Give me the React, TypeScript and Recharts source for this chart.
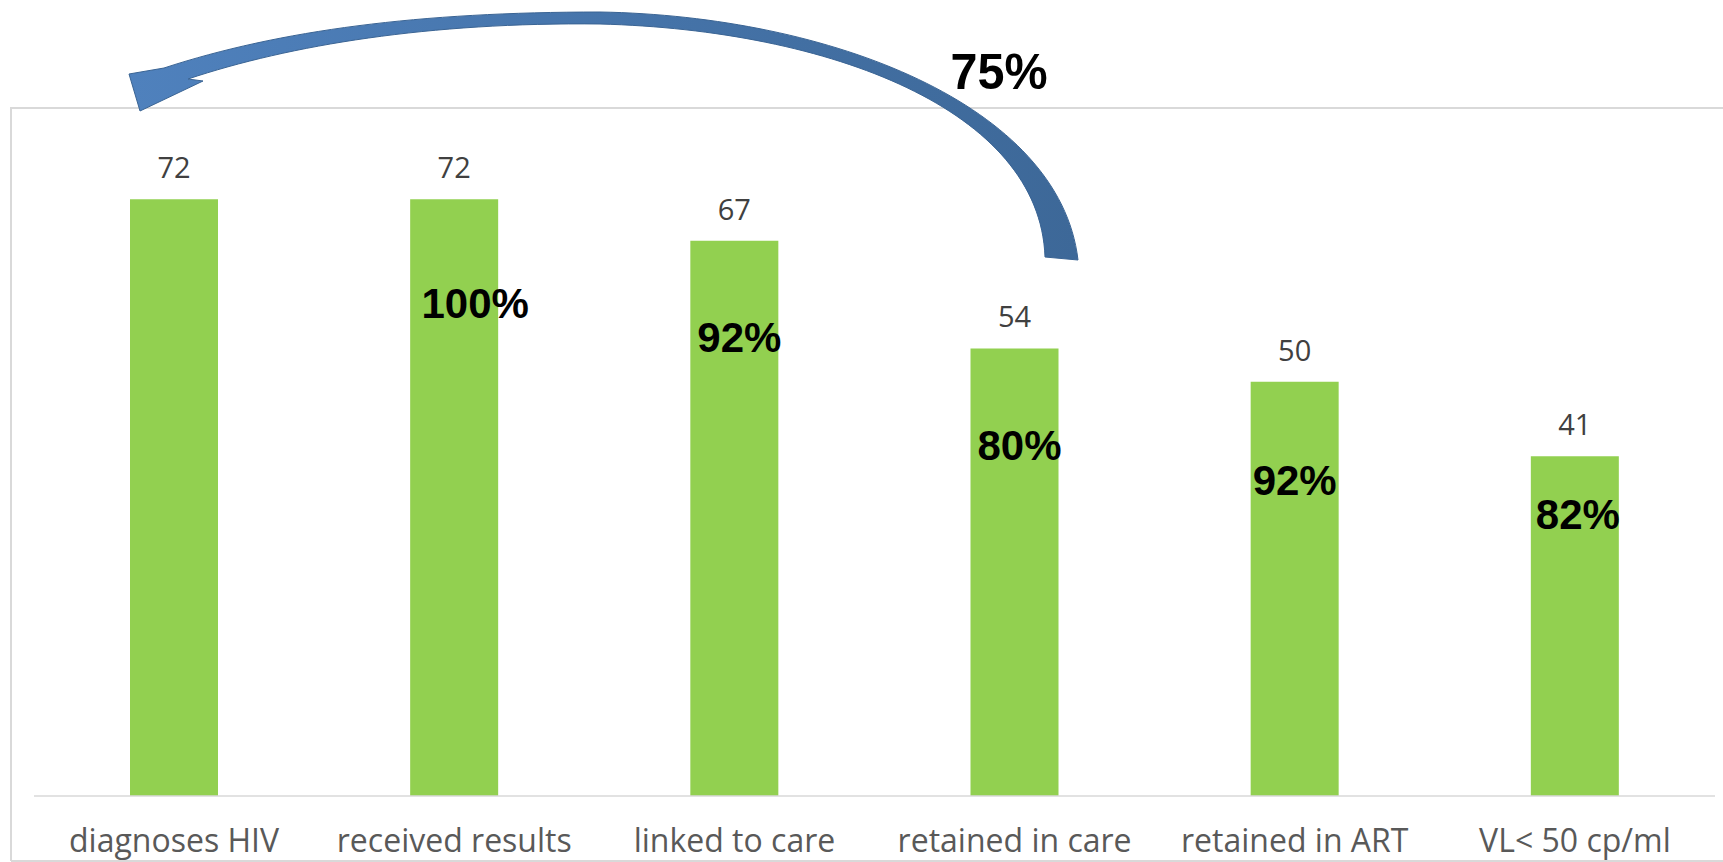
import React from "react"
import { BarChart, Bar, XAxis, YAxis, LabelList } from "recharts"

const steps = [
  "diagnoses HIV",
  "received results",
  "linked to care",
  "retained in care",
  "retained in ART",
  "VL< 50 cp/ml",
]
const counts = [72, 72, 67, 54, 50, 41]
const stepRates = ["", "100%", "92%", "80%", "92%", "82%"]
const overallRate = "75%"

const data = steps.map((name, i) => ({ name, count: counts[i], rate: stepRates[i] }))

// hand-placed text boxes in the original slide: [dx, dy from bar top]
const rateShift = [
  [0, 0],
  [21, 104],
  [5, 96],
  [5, 97],
  [0, 98],
  [3, 58],
]

const W = 1723
const H = 862

function CountLabel(props: any) {
  const { x, y, width, value } = props
  return (
    <text
      x={x + width / 2}
      y={y - 21}
      textAnchor="middle"
      fontFamily="'Open Sans', sans-serif"
      fontSize={29}
      fill="#404040"
    >
      {value}
    </text>
  )
}

function RateLabel(props: any) {
  const { x, y, width, value, index } = props
  if (!value) return null
  const s = rateShift[index] || [0, 97]
  return (
    <text
      x={x + width / 2 + s[0]}
      y={y + s[1] + 15}
      textAnchor="middle"
      fontFamily="'Liberation Sans', Arial, sans-serif"
      fontWeight="bold"
      fontSize={42}
      fill="#000"
    >
      {value}
    </text>
  )
}

function StepTick(props: any) {
  const { x, payload } = props
  return (
    <text
      x={x}
      y={852}
      textAnchor="middle"
      fontFamily="'Open Sans', sans-serif"
      fontSize={32}
      fill="#595959"
    >
      {payload.value}
    </text>
  )
}

export default function App() {
  return (
    <div style={{ position: "absolute", left: 0, top: 0, width: W, height: H, background: "#fff" }}>
      <BarChart
        width={W}
        height={H}
        data={data}
        margin={{ top: 133, right: 8, bottom: 0, left: 34 }}
      >
        <XAxis
          dataKey="name"
          height={66}
          tickLine={false}
          axisLine={{ stroke: "#D9D9D9", strokeWidth: 1.5 }}
          tick={<StepTick />}
          interval={0}
        />
        <YAxis hide domain={[0, 80]} width={0} />
        <Bar dataKey="count" fill="#92D050" barSize={88} isAnimationActive={false}>
          <LabelList dataKey="count" content={<CountLabel />} />
          <LabelList dataKey="rate" content={<RateLabel />} />
        </Bar>
      </BarChart>

      <svg
        width={W}
        height={H}
        style={{ position: "absolute", left: 0, top: 0, pointerEvents: "none" }}
      >
        <defs>
          <linearGradient id="arrowFill" x1="0" y1="0" x2="1" y2="0">
            <stop offset="0%" stopColor="#4F81BD" />
            <stop offset="100%" stopColor="#3D6898" />
          </linearGradient>
        </defs>
        <path
          d={`M 11 861 L 11 108 L ${W} 108 M 11 861 L ${W} 861`}
          fill="none"
          stroke="#D9D9D9"
          strokeWidth={2}
        />
        <path
          d="M 140 111 L 129 74 L 164 68
             C 280 30 420 12 600 12
             C 830 16 1060 105 1078 260
             L 1045 257
             C 1040 110 830 30 600 24
             C 430 22 290 45 188 79
             L 203 81 Z"
          fill="url(#arrowFill)"
          stroke="#3A6494"
          strokeWidth={1}
        />
        <text
          x={999}
          y={89}
          textAnchor="middle"
          fontFamily="'Liberation Sans', Arial, sans-serif"
          fontWeight="bold"
          fontSize={50}
          textLength={97}
          lengthAdjust="spacingAndGlyphs"
          fill="#000"
        >
          {overallRate}
        </text>
      </svg>
    </div>
  )
}
